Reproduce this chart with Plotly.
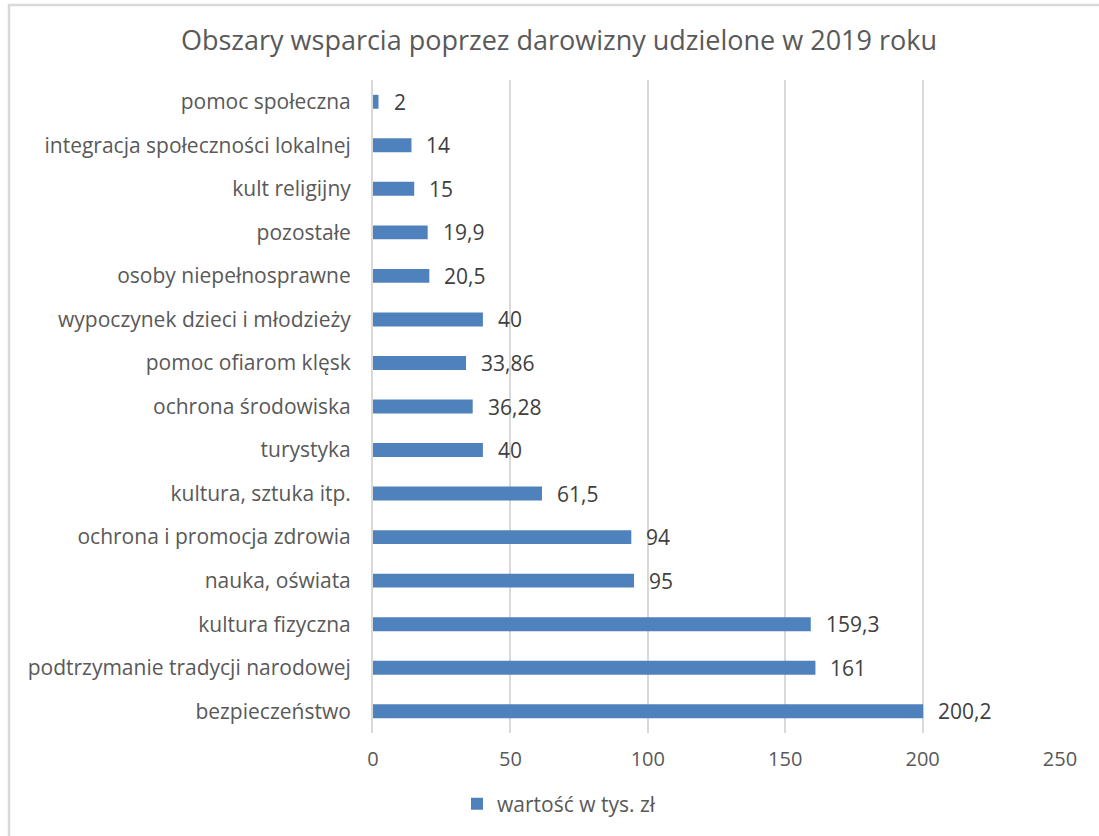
import plotly.graph_objects as go

categories = [
    "bezpieczeństwo",
    "podtrzymanie tradycji narodowej",
    "kultura fizyczna",
    "nauka, oświata",
    "ochrona i promocja zdrowia",
    "kultura, sztuka itp.",
    "turystyka",
    "ochrona środowiska",
    "pomoc ofiarom klęsk",
    "wypoczynek dzieci i młodzieży",
    "osoby niepełnosprawne",
    "pozostałe",
    "kult religijny",
    "integracja społeczności lokalnej",
    "pomoc społeczna",
]
values = [200.2, 161, 159.3, 95, 94, 61.5, 40, 36.28, 33.86, 40, 20.5, 19.9, 15, 14, 2]
value_labels = ["200,2", "161", "159,3", "95", "94", "61,5", "40", "36,28", "33,86",
                "40", "20,5", "19,9", "15", "14", "2"]
series_name = "wartość w tys. zł"
title_text = "Obszary wsparcia poprzez darowizny udzielone w 2019 roku"
x_ticks = [0, 50, 100, 150, 200, 250]

FONT = "Open Sans"
TXT = "#595959"
GRID = "#D9D9D9"
BAR = "#4F81BD"

W, H = 1099, 836
ML, MR, MT, MB = 373, 39, 80, 103
pw, ph = W - ML - MR, H - MT - MB

fig = go.Figure()
fig.add_trace(go.Bar(
    x=values, y=categories, orientation="h", name=series_name,
    marker=dict(color=BAR, line=dict(width=0)), width=0.32,
    hoverinfo="x+y",
))

for v, c, t in zip(values, categories, value_labels):
    fig.add_annotation(x=v, y=c, text=t, showarrow=False, xanchor="left",
                       xshift=13, yshift=0, font=dict(family=FONT, size=21, color="#404040"))

def px_x(p):
    return (p - ML) / pw

def px_y(p):
    return (H - MB - p) / ph

shapes = [
    dict(type="line", xref="paper", yref="paper", x0=px_x(9), x1=px_x(9), y0=px_y(4), y1=px_y(H + 5),
         line=dict(color=GRID, width=2.5)),
    dict(type="line", xref="paper", yref="paper", x0=px_x(8), x1=px_x(W + 5), y0=px_y(5), y1=px_y(5),
         line=dict(color=GRID, width=2.5)),
]

fig.update_layout(
    width=W, height=H,
    margin=dict(l=ML, r=MR, t=MT, b=MB),
    paper_bgcolor="white", plot_bgcolor="white",
    title=dict(text=title_text, x=559 / W, xanchor="center", y=1 - 41 / H, yanchor="middle",
               font=dict(family=FONT, size=27, color=TXT)),
    xaxis=dict(range=[0, 250], tickvals=x_ticks, ticktext=[str(t) for t in x_ticks],
               showgrid=True, gridcolor=GRID, gridwidth=2, zeroline=False, showline=False,
               tickfont=dict(family=FONT, size=20, color=TXT), ticks="", ticklabelstandoff=12,
               fixedrange=True),
    yaxis=dict(categoryorder="array", categoryarray=categories, showgrid=False,
               showline=True, linecolor=GRID, linewidth=2,
               tickfont=dict(family=FONT, size=21, color=TXT), ticks="", ticklabelstandoff=16,
               fixedrange=True),
    bargap=0.68,
    showlegend=True,
    legend=dict(orientation="h", x=px_x(457), xanchor="left", y=px_y(804), yanchor="middle",
                font=dict(family=FONT, size=21, color=TXT), bgcolor="rgba(0,0,0,0)"),
    shapes=shapes,
)

fig.write_html("out.html", config={"displayModeBar": False},
               post_script="document.body.style.margin='0';")
